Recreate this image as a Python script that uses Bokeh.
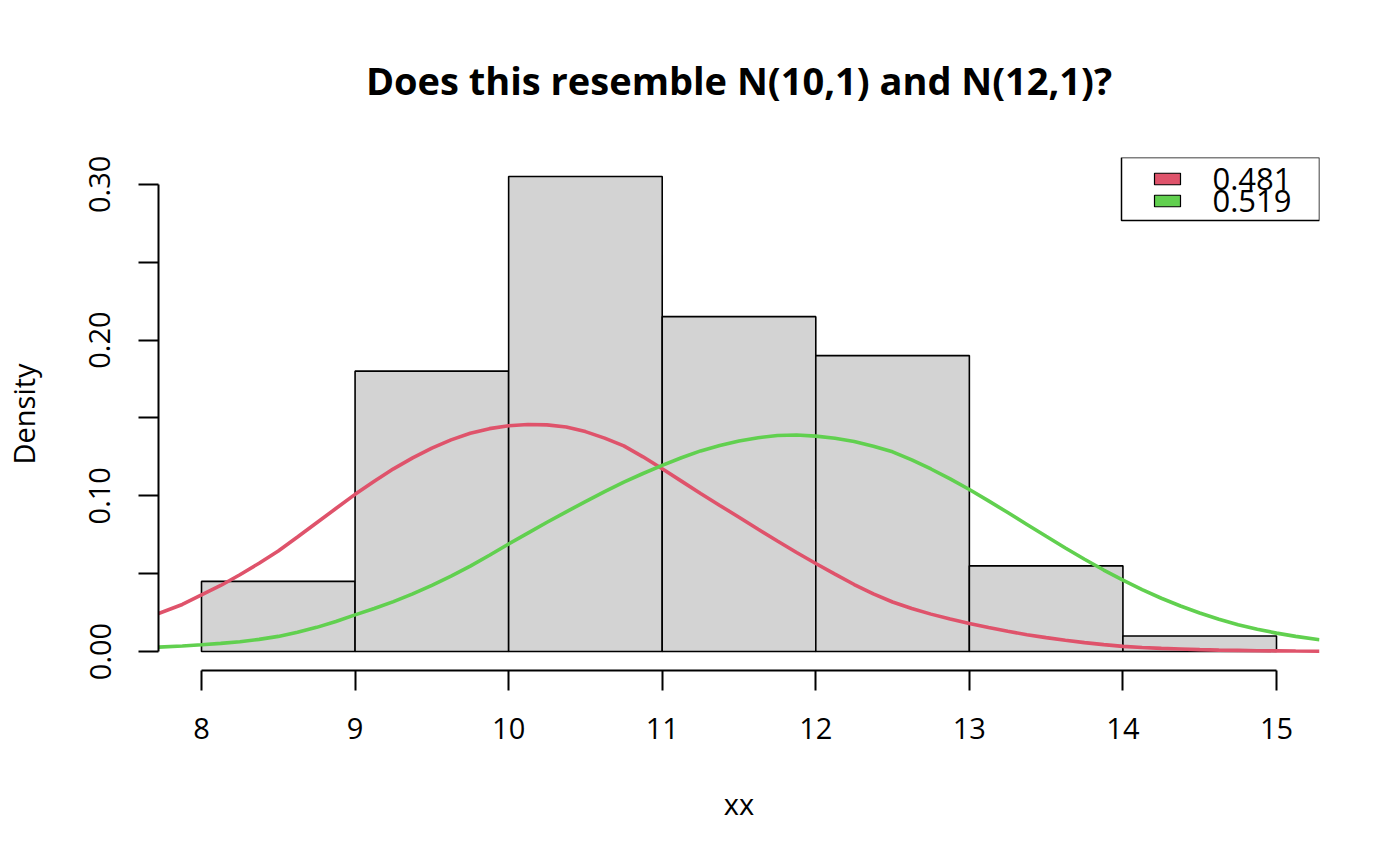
from bokeh.plotting import figure
from bokeh.models import Range1d, FixedTicker
from bokeh.core.properties import value
from bokeh.embed import file_html
from bokeh.resources import INLINE

# ---- data ----
breaks = [8, 9, 10, 11, 12, 13, 14, 15]
density = [0.045, 0.18, 0.305, 0.215, 0.19, 0.055, 0.01]

curve_x = [7.72, 7.875, 8.0, 8.125, 8.25, 8.375, 8.5, 8.625, 8.75, 8.875,
           9.0, 9.125, 9.25, 9.375, 9.5, 9.625, 9.75, 9.875,
           10.0, 10.125, 10.25, 10.375, 10.5, 10.625, 10.75, 10.875,
           11.0, 11.125, 11.25, 11.375, 11.5, 11.625, 11.75, 11.875,
           12.0, 12.125, 12.25, 12.375, 12.5, 12.625, 12.75, 12.875,
           13.0, 13.125, 13.25, 13.375, 13.5, 13.625, 13.75, 13.875,
           14.0, 14.125, 14.25, 14.375, 14.5, 14.625, 14.75, 14.875,
           15.0, 15.125, 15.28]
red_y = [0.0244, 0.0302, 0.0364, 0.0424, 0.0493, 0.0567, 0.0645, 0.0735, 0.0827, 0.0918,
         0.1009, 0.1093, 0.1173, 0.1243, 0.1306, 0.1359, 0.1401, 0.1431,
         0.1450, 0.1458, 0.1455, 0.1442, 0.1412, 0.1370, 0.1320, 0.1250,
         0.1173, 0.1094, 0.1015, 0.0938, 0.0862, 0.0785, 0.0710, 0.0636,
         0.0565, 0.0497, 0.0430, 0.0370, 0.0318, 0.0276, 0.0240, 0.0208,
         0.0180, 0.0154, 0.0130, 0.0108, 0.0089, 0.0072, 0.0057, 0.0044,
         0.0033, 0.0026, 0.0020, 0.0016, 0.0012, 0.0009, 0.0007, 0.0005,
         0.0004, 0.0003, 0.0002]
green_y = [0.0028, 0.0035, 0.0043, 0.0052, 0.0063, 0.0078, 0.0097, 0.0124, 0.0155, 0.0193,
           0.0235, 0.0276, 0.0320, 0.0370, 0.0425, 0.0484, 0.0548, 0.0618,
           0.0690, 0.0760, 0.0830, 0.0897, 0.0962, 0.1026, 0.1088, 0.1143,
           0.1195, 0.1244, 0.1288, 0.1323, 0.1352, 0.1373, 0.1387, 0.1390,
           0.1383, 0.1369, 0.1348, 0.1318, 0.1282, 0.1230, 0.1172, 0.1108,
           0.1040, 0.0967, 0.0892, 0.0816, 0.0740, 0.0665, 0.0592, 0.0523,
           0.0458, 0.0398, 0.0342, 0.0292, 0.0247, 0.0207, 0.0172, 0.0143,
           0.0118, 0.0097, 0.0076]

legend_labels = ["0.481", "0.519"]
legend_colors = ["#DF536B", "#61D04F"]

x_ticks = [8, 9, 10, 11, 12, 13, 14, 15]
y_ticks = [0.0, 0.05, 0.10, 0.15, 0.20, 0.25, 0.30]
y_tick_labels = ["0.00", "", "0.10", "", "0.20", "", "0.30"]

title = "Does this resemble N(10,1) and N(12,1)?"
FONT = "Open Sans"

# ---- ranges (R style 4% extension) ----
x0, x1 = 7.72, 15.28
y0, y1 = -0.0122, 0.3172
FW, FH = 1161, 513

p = figure(width=1384, height=850, frame_width=FW, frame_height=FH,
           x_range=Range1d(x0, x1), y_range=Range1d(y0, y1),
           output_backend="svg", toolbar_location=None,
           min_border_left=158, min_border_right=65, min_border_top=157,
           min_border_bottom=180, title=title)
p.grid.visible = False
p.outline_line_color = None
p.background_fill_color = "white"

p.title.text_font = FONT
p.title.text_font_size = "38px"
p.title.text_font_style = "bold"
p.title.text_color = "black"
p.title.align = "center"
p.title.standoff = 103

for ax in (p.xaxis[0], p.yaxis[0]):
    ax.axis_line_width = 2
    ax.major_tick_line_width = 2
    ax.major_tick_in = 0
    ax.major_tick_out = 20
    ax.minor_tick_line_color = None
    ax.major_label_text_font = FONT
    ax.major_label_text_font_size = "29px"
    ax.major_label_text_color = "black"
    ax.axis_label_text_font = FONT
    ax.axis_label_text_font_size = "29px"
    ax.axis_label_text_font_style = "normal"
    ax.axis_label_text_color = "black"

p.xaxis.ticker = FixedTicker(ticks=x_ticks)
p.xaxis.bounds = (x_ticks[0], x_ticks[-1])
p.xaxis.major_label_standoff = 27
p.xaxis.axis_label = "xx"
p.xaxis.axis_label_standoff = 42

p.yaxis.ticker = FixedTicker(ticks=y_ticks)
p.yaxis.bounds = (y_ticks[0], y_ticks[-1])
p.yaxis.major_label_overrides = {t: l for t, l in zip(y_ticks, y_tick_labels)}
p.yaxis.major_label_orientation = "vertical"
p.yaxis.major_label_standoff = 28
p.yaxis.axis_label = "Density"
p.yaxis.axis_label_standoff = 44

# histogram
p.quad(left=breaks[:-1], right=breaks[1:], bottom=0, top=density,
       fill_color="#D3D3D3", line_color="black", line_width=1.6)

# component curves
p.line(curve_x, red_y, line_color=legend_colors[0], line_width=3.6)
p.line(curve_x, green_y, line_color=legend_colors[1], line_width=3.6)

# legend (top-right, R style)
dxp = (x1 - x0) / FW
dyp = (y1 - y0) / FH
p.quad(left=[x1 - 198 * dxp], right=[x1], top=[y1], bottom=[y1 - 63 * dyp],
       fill_color="white", line_color="black", line_width=1.5)
row_off = [21.5, 43.5]
p.quad(left=[x1 - 165 * dxp] * 2, right=[x1 - 139 * dxp] * 2,
       top=[y1 - (o - 5.75) * dyp for o in row_off],
       bottom=[y1 - (o + 5.75) * dyp for o in row_off],
       fill_color=legend_colors, line_color="black", line_width=1.2)
p.text(x=[x1 - 107 * dxp] * 2, y=[y1 - o * dyp for o in row_off], text=legend_labels,
       text_font=value(FONT), text_font_size="31px", text_align="left",
       text_baseline="middle", text_color="black")

open("out.html", "w").write(file_html(p, INLINE))
